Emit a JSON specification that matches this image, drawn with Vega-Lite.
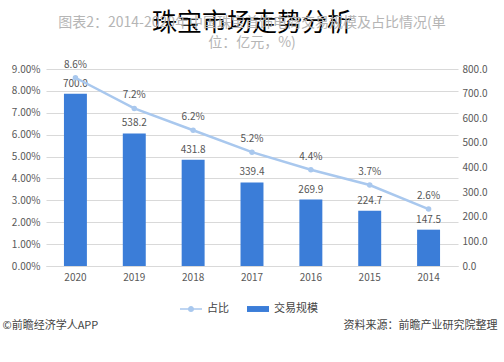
{
  "$schema": "https://vega.github.io/schema/vega-lite/v6.json",
  "width": 412,
  "height": 197,
  "autosize": "none",
  "padding": {"left": 46, "top": 69, "right": 46, "bottom": 96},
  "background": "white",
  "config": {
    "font": "Noto Sans CJK SC",
    "view": {"stroke": null}
  },
  "title": {
    "text": "珠宝市场走势分析",
    "fontSize": 25,
    "fontWeight": "normal",
    "color": "#000000",
    "font": "Noto Sans CJK SC",
    "anchor": "middle",
    "offset": 10,
    "subtitle": ["图表2：2014-2020年中国珠宝首饰电商交易规模及占比情况(单", "位：亿元，%)"],
    "subtitleFontSize": 14,
    "subtitleColor": "#b5b5b5",
    "subtitleLineHeight": 20,
    "subtitlePadding": -20,
    "subtitleFont": "Noto Sans CJK SC"
  },
  "data": {
    "values": [
      {"year": "2014", "value": 147.5, "pct": 2.6},
      {"year": "2015", "value": 224.7, "pct": 3.7},
      {"year": "2016", "value": 269.9, "pct": 4.4},
      {"year": "2017", "value": 339.4, "pct": 5.2},
      {"year": "2018", "value": 431.8, "pct": 6.2},
      {"year": "2019", "value": 538.2, "pct": 7.2},
      {"year": "2020", "value": 700.0, "pct": 8.6}
    ]
  },
  "encoding": {
    "x": {
      "field": "year",
      "type": "ordinal",
      "sort": "descending",
      "scale": {"paddingInner": 0.61, "paddingOuter": 0.305},
      "axis": {
        "title": null,
        "labelAngle": 0,
        "labelFontSize": 10,
        "labelColor": "#595959",
        "labelPadding": 6,
        "ticks": false,
        "domain": true,
        "domainColor": "#d9d9d9"
      }
    }
  },
  "layer": [
    {
      "encoding": {
        "y": {
          "field": "value",
          "type": "quantitative",
          "scale": {"domain": [0, 800], "nice": false},
          "axis": {
            "orient": "right",
            "values": [0, 100, 200, 300, 400, 500, 600, 700, 800],
            "format": ".1f",
            "grid": false,
            "ticks": false,
            "domain": false,
            "labelFontSize": 10,
            "labelColor": "#595959",
            "labelPadding": 4,
            "title": "资料来源：前瞻产业研究院整理",
            "titleAngle": 0,
            "titleAlign": "right",
            "titleBaseline": "middle",
            "titleX": 39,
            "titleY": 256,
            "titleFontSize": 11,
            "titleFontWeight": "normal",
            "titleColor": "#444444"
          }
        }
      },
      "layer": [
        {
          "mark": {"type": "bar"},
          "encoding": {
            "color": {
              "datum": "交易规模",
              "type": "nominal",
              "scale": {"domain": ["占比", "交易规模"], "range": ["#a9c8ee", "#3b7dd8"]},
              "legend": {
                "orient": "none",
                "legendX": 134,
                "legendY": 229,
                "direction": "horizontal",
                "title": null,
                "labelFontSize": 11,
                "labelColor": "#444444",
                "symbolSize": 484,
                "columnPadding": 18,
                "labelOffset": 5,
                "encode": {
                  "symbols": {
                    "update": {
                      "shape": {"signal": "datum.value === '占比' ? 'M-1,-0.07H1V0.07H-1Z M0.28,0A0.28,0.28,0,1,1,-0.28,0A0.28,0.28,0,1,1,0.28,0Z' : 'M-1,-0.27H1V0.27H-1Z'"},
                      "fill": {"scale": "color", "field": "value"},
                      "fillOpacity": {"value": 1},
                      "strokeWidth": {"value": 0}
                    }
                  }
                }
              }
            }
          }
        },
        {
          "mark": {"type": "text", "baseline": "bottom", "dy": -5, "fontSize": 10, "color": "#555555"},
          "encoding": {"text": {"field": "value", "type": "quantitative", "format": ".1f"}}
        }
      ]
    },
    {
      "encoding": {
        "y": {
          "field": "pct",
          "type": "quantitative",
          "scale": {"domain": [0, 9], "nice": false},
          "axis": {
            "orient": "left",
            "values": [0, 1, 2, 3, 4, 5, 6, 7, 8, 9],
            "labelExpr": "format(datum.value, '.2f') + '%'",
            "grid": true,
            "gridColor": "#d9d9d9",
            "ticks": false,
            "domain": false,
            "labelFontSize": 10,
            "labelColor": "#595959",
            "labelPadding": 6,
            "title": "©前瞻经济学人APP",
            "titleAngle": 0,
            "titleAlign": "left",
            "titleBaseline": "middle",
            "titleX": -44,
            "titleY": 256,
            "titleFontSize": 11,
            "titleFontWeight": "normal",
            "titleColor": "#444444"
          }
        }
      },
      "layer": [
        {
          "mark": {"type": "line", "strokeWidth": 2.5},
          "encoding": {
            "color": {
              "datum": "占比",
              "type": "nominal",
              "scale": {"domain": ["占比", "交易规模"], "range": ["#a9c8ee", "#3b7dd8"]}
            }
          }
        },
        {
          "mark": {"type": "point", "filled": true, "size": 30, "color": "#a9c8ee", "opacity": 1}
        },
        {
          "transform": [{"calculate": "format(datum.pct, '.1f') + '%'", "as": "pctLabel"}],
          "mark": {"type": "text", "baseline": "bottom", "dy": -8, "fontSize": 10, "color": "#555555"},
          "encoding": {"text": {"field": "pctLabel", "type": "nominal"}}
        }
      ]
    }
  ],
  "resolve": {"scale": {"y": "independent"}}
}
